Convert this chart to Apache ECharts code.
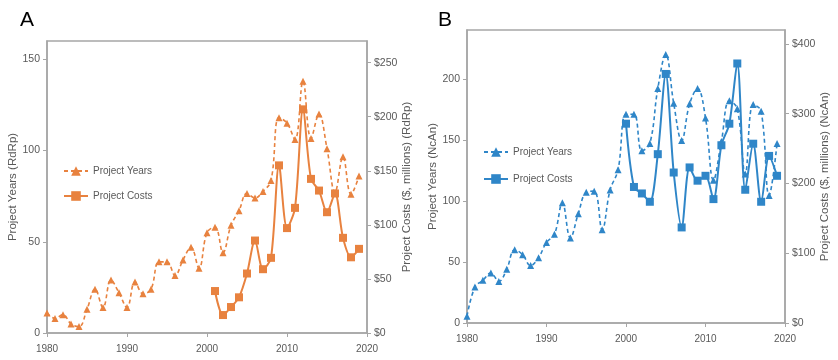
<!DOCTYPE html>
<html lang="en">
<head>
    <meta charset="UTF-8">
    <title>Project Years and Costs</title>
    <script src="https://cdn.jsdelivr.net/npm/echarts@6/dist/echarts.min.js"></script>
</head>
<body style="margin: 0; background: #fff">
<div id="container" style="width:838px;height:360px;"></div>

<script>
    // data
    var years = [1980, 1981, 1982, 1983, 1984, 1985, 1986, 1987, 1988, 1989,
        1990, 1991, 1992, 1993, 1994, 1995, 1996, 1997, 1998, 1999,
        2000, 2001, 2002, 2003, 2004, 2005, 2006, 2007, 2008, 2009,
        2010, 2011, 2012, 2013, 2014, 2015, 2016, 2017, 2018, 2019];

    // panel A (RdRp)
    var projYearsA = [11, 8, 10, 5, 3.5, 13, 24, 14, 29, 22,
        14, 28, 21.5, 24, 39, 39, 31.5, 40, 47, 35.5,
        55, 58, 44, 59, 67, 76.5, 74, 77.6, 83.5, 118,
        115, 106, 138, 106.6, 120, 101, 77, 96.6, 76, 86];
    var costYearsA = [2001, 2002, 2003, 2004, 2005, 2006, 2007, 2008, 2009, 2010,
        2011, 2012, 2013, 2014, 2015, 2016, 2017, 2018, 2019];
    var projCostsA = [38.8, 16.6, 24, 33, 55, 85.5, 59, 69.5, 155, 97,
        115.7, 206.8, 142.5, 131.7, 111.7, 129, 88, 70, 77.8];

    // panel B (NcAn)
    var projYearsB = [5.5, 29.5, 35, 41, 34, 44, 60, 56, 47, 53.5,
        66, 72.6, 98.5, 69.6, 89.5, 107, 108, 76.4, 109, 125.5,
        171, 171, 141, 147, 192, 220, 180, 149.5, 179.5, 192,
        168, 117, 148.7, 182, 175.5, 122, 179, 173.5, 104.5, 147];
    var costYearsB = [2000, 2001, 2002, 2003, 2004, 2005, 2006, 2007, 2008, 2009,
        2010, 2011, 2012, 2013, 2014, 2015, 2016, 2017, 2018, 2019];
    var projCostsB = [285.7, 195, 185.7, 173.8, 242, 357, 215.7, 137, 223, 204,
        211, 177.6, 254.8, 285.7, 372, 191, 257, 173.8, 239.5, 211];

    var orange = "#E8823F";
    var blue = "#2F86C8";
    var axisGrey = "#a6a6a6";
    var textGrey = "#595959";
    var font = "'Liberation Sans', sans-serif";

    function pairs(xs, ys) {
        return xs.map(function (x, i) { return [x, ys[i]]; });
    }

    function xAxisFor(grid) {
        return {
            type: "value", gridIndex: grid, min: 1980, max: 2020, interval: 10,
            axisLine: { lineStyle: { color: axisGrey, width: 1.5 } },
            axisTick: { length: 4, lineStyle: { color: axisGrey } },
            axisLabel: {
                color: textGrey, fontSize: 10, fontFamily: font, margin: 11,
                formatter: function (v) { return String(v); }
            },
            splitLine: { show: false }
        };
    }

    function yAxisFor(grid, pos, max, interval, name, gap, money) {
        return {
            type: "value", gridIndex: grid, position: pos, min: 0, max: max, interval: interval,
            name: name, nameLocation: "middle", nameGap: gap,
            nameTextStyle: { color: textGrey, fontSize: 11.5, fontFamily: font },
            axisLine: { show: true, lineStyle: { color: axisGrey, width: 1.5 } },
            axisTick: { show: true, length: 4, lineStyle: { color: axisGrey } },
            axisLabel: {
                color: textGrey, fontSize: 10.5, fontFamily: font, margin: 7, showMaxLabel: false,
                formatter: money ? "${value}" : "{value}"
            },
            splitLine: { show: false }
        };
    }

    var legendNames = { yA: "Project Years", cA: "Project Costs", yB: "Project Years", cB: "Project Costs" };

    function legendFor(ids, left, top, gap) {
        return {
            orient: "vertical", left: left, top: top, itemGap: gap, itemWidth: 24, itemHeight: 12,
            data: ids, selectedMode: false,
            textStyle: { color: textGrey, fontSize: 10, fontFamily: font },
            formatter: function (n) { return legendNames[n]; }
        };
    }

    function yearsSeries(id, xi, yi, data, color) {
        return {
            name: id, type: "line", xAxisIndex: xi, yAxisIndex: yi, data: data,
            smooth: 0.4, symbol: "triangle", symbolSize: 7,
            lineStyle: { color: color, width: 1.6, type: [4, 3] },
            itemStyle: { color: color }
        };
    }

    function costsSeries(id, xi, yi, data, color) {
        return {
            name: id, type: "line", xAxisIndex: xi, yAxisIndex: yi, data: data,
            smooth: 0.3, symbol: "rect", symbolSize: 8,
            lineStyle: { color: color, width: 2 },
            itemStyle: { color: color }
        };
    }

    var myChart = echarts.init(document.getElementById("container"), null, { renderer: "canvas" });

    var option = {
        animation: false,
        backgroundColor: "#fff",
        title: [
            { text: "A", left: 15, top: 5, textStyle: { fontSize: 21, fontWeight: "normal", color: "#000", fontFamily: font } },
            { text: "B", left: 433, top: 5, textStyle: { fontSize: 21, fontWeight: "normal", color: "#000", fontFamily: font } }
        ],
        grid: [
            { left: 47, top: 41, width: 320, height: 292, show: true, borderColor: axisGrey, borderWidth: 1.5 },
            { left: 467, top: 30, width: 318, height: 293, show: true, borderColor: axisGrey, borderWidth: 1.5 }
        ],
        legend: [
            legendFor(["yA", "cA"], 58, 161, 15),
            legendFor(["yB", "cB"], 478, 142, 17)
        ],
        xAxis: [xAxisFor(0), xAxisFor(1)],
        yAxis: [
            yAxisFor(0, "left", 160, 50, "Project Years (RdRp)", 22, false),
            yAxisFor(0, "right", 270, 50, "Project Costs ($, millions) (RdRp)", 30, true),
            yAxisFor(1, "left", 240, 50, "Project Years (NcAn)", 22, false),
            yAxisFor(1, "right", 420, 100, "Project Costs ($, millions) (NcAn)", 30, true)
        ],
        series: [
            yearsSeries("yA", 0, 0, pairs(years, projYearsA), orange),
            costsSeries("cA", 0, 1, pairs(costYearsA, projCostsA), orange),
            yearsSeries("yB", 1, 2, pairs(years, projYearsB), blue),
            costsSeries("cB", 1, 3, pairs(costYearsB, projCostsB), blue)
        ]
    };

    myChart.setOption(option);
</script>
</body>
</html>
